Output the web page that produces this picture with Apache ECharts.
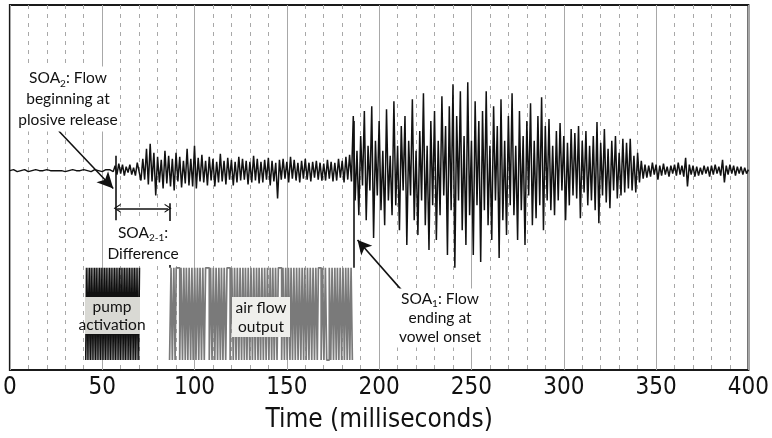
<!DOCTYPE html>
<html lang="en">
<head>
  <meta charset="UTF-8">
  <title>Time (milliseconds)</title>
  <script src="https://cdn.jsdelivr.net/npm/echarts@6/dist/echarts.min.js"></script>
  <style>
    html, body { margin: 0; padding: 0; background: #fff; }
    #chart { width: 772px; height: 438px; }
  </style>
</head>
<body>
<div id="chart"></div>
<script>
  // x axis ticks (ms)
  var tickMs = [0, 50, 100, 150, 200, 250, 300, 350, 400];

  // acoustic waveform, one sample per ms starting at 0 ms (amplitude, arbitrary units)
  var waveStartMs = 0;
  var waveStepMs = 1;
  var waveAmp = [].concat(
    [0, 0, 1, 0, -1, 0, 0, 1, 1, 0],            // 0-9
    [-1, -1, 0, 0, 1, 0, 0, -1, 0, 1],          // 10-19
    [1, 0, 0, -1, 0, 0, 0, 1, 0, -1],           // 20-29
    [-1, 0, 0, 1, 1, 0, 0, -1, 0, 0],           // 30-39
    [1, 0, 0, -1, -1, 0, 1, 0, 0, 0],           // 40-49
    [-1, 0, 1, 2, 1, 0, -1],                    // 50-56
    [5, -4, 7, -3, 6, -5, 4, -2, 6, -4, 3, -5, 8], // 57-69
    [8, -10, 12, -9, 22, -14, 27, -11, 18, -25],   // 70-79
    [14, -12, 11, -18, 20, -13, 15, -16, 12, -20], // 80-89
    [18, -11, 14, -17, 10, -13, 22, -15, 12, -16], // 90-99
    [25, -18, 13, -11, 16, -12, 10, -15, 14, -10], // 100-109
    [12, -16, 9, -12, 17, -11, 10, -14, 13, -9],   // 110-119
    [11, -15, 9, -12, 14, -10, 12, -9, 10, -14],   // 120-129
    [9, -12, 15, -10, 12, -13, 9, -12, 11, -9],    // 130-139
    [13, -15, 10, -11, 8, -28, 11, -9, 12, -8],    // 140-149
    [9, -12, 14, -8, 11, -10, 8, -12, 10, -8],     // 150-159
    [12, -9, 8, -11, 9, -7, 10, -9, 8, -10],       // 160-169
    [7, -10, 11, -8, 9, -11, 8, -10, 12, -7],      // 170-179
    [10, -12, 14, -9, 16, -11],                    // 180-185
    [55, -30, 20, -45, 35, -15, 60, -50, 25, -20], // 186-195
    [65, -68, 30, -25, 50, -40, 20, -55, 62, -30], // 196-205
    [15, -45, 70, -35, 25, -60, 45, -20, 55, -75], // 206-215
    [30, -25, 72, -50, 20, -65, 40, -30, 78, -55], // 216-225
    [25, -80, 50, -35, 60, -70, 30, -45, 75, -25], // 226-235
    [45, -85, 65, -40, 87, -98, 55, -30, 80, -60], // 236-245
    [35, -75, 89, -45, 30, -85, 70, -35, 50, -92], // 246-255
    [60, -40, 80, -55, 25, -70, 65, -30, 45, -88], // 256-265
    [72, -50, 30, -65, 55, -35, 78, -45, 25, -70], // 266-275
    [60, -40, 35, -75, 50, -25, 68, -55, 30, -48], // 276-285
    [55, -35, 74, -60, 45, -30, 52, -40, 25, -45], // 286-295
    [40, -30, 48, -20, 35, -50, 28, -35, 42, -25], // 296-305
    [38, -28, 45, -48, 30, -22, 40, -35, 25, -30], // 306-315
    [35, -40, 49, -53, 28, -25, 42, -32, 22, -38], // 316-325
    [30, -20, 35, -28, 18, -25, 32, -22, 28, -18], // 326-335
    [32, -20, 15, -22, 18, -12, 10, -8, 6, -7],    // 336-345
    [5, -6, 8, -4, 6, -9, 5, -5, 7, -4],           // 346-355
    [4, -6, 5, -3, 6, -5, 8, -4, 5, -6],           // 356-365
    [13, -16, 6, -4, 5, -6, 4, -5, 3, -4],         // 366-375
    [5, -3, 4, -6, 5, -4, 6, -3, 4, -5],           // 376-385
    [11, -12, 5, -4, 6, -3, 5, -5, 4, -3],         // 386-395
    [4, -4, 3, -3, 1]                              // 396-400
  );

  // pulse trains: switching times (ms), levels alternate low/high
  var pulseHigh = -98;
  var pulseLow = -191;
  var pumpEdges = [41, 41.4, 41.9, 42.3, 42.8, 43.2, 43.7, 44.1, 44.6, 45, 45.5, 45.9, 46.4, 46.8,
    47.3, 47.7, 48.2, 48.6, 49.1, 49.5, 50, 50.4, 50.9, 51.3, 51.8, 52.2, 52.7, 53.1, 53.6, 54,
    54.5, 54.9, 55.4, 55.8, 56.3, 56.7, 57.2, 57.6, 58.1, 58.5, 59, 59.4, 59.9, 60.3, 60.8, 61.2,
    61.7, 62.1, 62.6, 63, 63.5, 63.9, 64.4, 64.8, 65.3, 65.7, 66.2, 66.6, 67.1, 67.5, 68, 68.4,
    68.9, 69.3, 69.8, 70.3];
  var airEdges = [86.5, 87.3, 88.0, 88.8, 89.5, 90.1, 92.0, 92.7, 93.5, 94.2, 95.0, 95.6, 96.4,
    97.1, 97.9, 98.6, 99.3, 100.1, 100.8, 101.6, 102.3, 103.0, 103.8, 104.5, 105.3, 106.0, 108.0,
    108.7, 109.5, 110.2, 111.0, 111.7, 112.5, 113.2, 114.0, 114.6, 115.4, 116.1, 116.9, 117.6,
    119.3, 120.2, 121.0, 121.7, 122.5, 123.2, 124.0, 124.7, 125.5, 126.2, 127.0, 127.6, 128.4,
    129.1, 129.9, 130.6, 131.4, 132.1, 132.9, 133.6, 134.4, 135.0, 135.8, 136.5, 137.3, 138.0,
    138.8, 139.5, 140.3, 141.0, 141.8, 142.4, 143.2, 143.9, 144.7, 145.4, 147.2, 147.9, 148.7,
    149.4, 150.2, 150.9, 151.7, 152.3, 153.1, 153.8, 154.6, 155.3, 156.1, 156.8, 157.6, 158.3,
    159.1, 159.7, 160.5, 161.2, 162.0, 162.7, 163.5, 164.2, 165.0, 165.7, 166.5, 167.1, 168.6,
    169.4, 170.1, 170.9, 171.6, 173.0, 173.8, 174.5, 175.3, 176.0, 176.8, 177.4, 178.2, 178.9,
    179.7, 180.4, 181.2, 181.9, 182.7, 183.3, 184.1, 184.8, 185.5];

  // onset markers (ms)
  var soa2Ms = 57.3;
  var pumpStopMs = 86.5;
  var soa1Ms = 186;

  var waveData = waveAmp.map(function (v, i) { return [waveStartMs + i * waveStepMs, v]; });
  function pulseData(edges) {
    return edges.map(function (t, i) { return [t, i % 2 ? pulseHigh : pulseLow]; });
  }

  var chevron = 'path://M0,10 L5,0 L10,10 L8.6,10 L5,3 L1.4,10 Z';
  var textFont = 'Lato, Noto Sans, sans-serif';
  var axisFont = 'Liberation Sans Narrow, DejaVu Sans Condensed, sans-serif';

  var chart = echarts.init(document.getElementById('chart'));
  chart.setOption({
    animation: false,
    grid: { left: 9, right: 23, top: 5, bottom: 65, show: true, borderColor: '#1a1a1a', borderWidth: 2, backgroundColor: 'transparent' },
    xAxis: {
      type: 'value', min: tickMs[0], max: tickMs[tickMs.length - 1], interval: 50,
      name: 'Time (milliseconds)', nameLocation: 'middle', nameGap: 37,
      nameTextStyle: { fontFamily: axisFont, fontSize: 26, color: '#111' },
      axisLine: { show: false }, axisTick: { show: false },
      axisLabel: { margin: 6, fontFamily: axisFont, fontSize: 24, color: '#111' },
      splitLine: { show: true, lineStyle: { color: '#a8a8a8', width: 1 } },
      minorTick: { show: false, splitNumber: 5 },
      minorSplitLine: { show: true, lineStyle: { color: '#a8a8a8', width: 1, type: [4, 5] } }
    },
    yAxis: { type: 'value', min: -201, max: 167, show: false, splitLine: { show: false } },
    series: [
      {
        name: 'pump', type: 'line', step: 'end', data: pulseData(pumpEdges), showSymbol: false,
        lineStyle: { color: '#111', width: 1.2 }, z: 2, silent: true
      },
      {
        name: 'air flow', type: 'line', step: 'end', data: pulseData(airEdges), showSymbol: false,
        lineStyle: { color: '#7a7a7a', width: 1.7 }, z: 2, silent: true
      },
      {
        name: 'waveform', type: 'line', data: waveData, showSymbol: false,
        lineStyle: { color: '#111', width: 1.5 }, z: 3, silent: true,
        markLine: {
          silent: true, animation: false, symbol: 'none', label: { show: false },
          lineStyle: { color: '#111', width: 1.6, type: 'solid' },
          data: [
            [{ coord: [soa2Ms, 15] }, { coord: [soa2Ms, -50] }],
            [{ coord: [pumpStopMs, -33] }, { coord: [pumpStopMs, -98] }],
            [{ coord: [soa1Ms, 50] }, { coord: [soa1Ms, -98] }],
            [{ coord: [soa2Ms + 0.8, -38], symbol: chevron, symbolSize: [9, 7] },
             { coord: [pumpStopMs - 0.8, -38], symbol: chevron, symbolSize: [9, 7] }],
            [{ coord: [26.5, 40] }, { coord: [56, -18], symbol: 'arrow', symbolSize: [12, 16] }],
            [{ coord: [212.4, -121] }, { coord: [188.3, -70], symbol: 'arrow', symbolSize: [11, 14] }]
          ]
        }
      }
    ],
    graphic: [
      { type: 'rect', z: 100, shape: { x: 85, y: 297, width: 55, height: 37 }, style: { fill: '#d9d9d4' } },
      { type: 'rect', z: 100, shape: { x: 232, y: 297, width: 58, height: 40 }, style: { fill: '#efefec' } },
      {
        type: 'text', z: 101, x: 68, y: 99,
        style: {
          text: '{n|SOA}{s|2}{n|: Flow}\n{n|beginning at}\n{n|plosive release}',
          align: 'center', verticalAlign: 'middle', backgroundColor: '#fff', padding: [1, 2],
          rich: {
            n: { fontFamily: textFont, fontSize: 15.5, lineHeight: 21, fill: '#111' },
            s: { fontFamily: textFont, fontSize: 10, lineHeight: 10, verticalAlign: 'bottom', fill: '#111' }
          }
        }
      },
      {
        type: 'text', z: 101, x: 143, y: 243,
        style: {
          text: '{n|SOA}{s|2-1}{n|:}\n{n|Difference}',
          align: 'center', verticalAlign: 'middle', backgroundColor: '#fff', padding: [1, 2],
          rich: {
            n: { fontFamily: textFont, fontSize: 15.5, lineHeight: 21, fill: '#111' },
            s: { fontFamily: textFont, fontSize: 10, lineHeight: 10, verticalAlign: 'bottom', fill: '#111' }
          }
        }
      },
      {
        type: 'text', z: 101, x: 112, y: 316,
        style: {
          text: 'pump\nactivation', align: 'center', verticalAlign: 'middle',
          fontFamily: textFont, fontSize: 15.5, lineHeight: 18, fill: '#111'
        }
      },
      {
        type: 'text', z: 101, x: 261, y: 317,
        style: {
          text: 'air flow\noutput', align: 'center', verticalAlign: 'middle',
          fontFamily: textFont, fontSize: 15.5, lineHeight: 19, fill: '#111'
        }
      },
      {
        type: 'text', z: 101, x: 440, y: 318,
        style: {
          text: '{n|SOA}{s|1}{n|: Flow}\n{n|ending at}\n{n|vowel onset}',
          align: 'center', verticalAlign: 'middle', backgroundColor: '#fff', padding: [1, 2],
          rich: {
            n: { fontFamily: textFont, fontSize: 15.5, lineHeight: 19, fill: '#111' },
            s: { fontFamily: textFont, fontSize: 10, lineHeight: 10, verticalAlign: 'bottom', fill: '#111' }
          }
        }
      }
    ]
  });
</script>
</body>
</html>
